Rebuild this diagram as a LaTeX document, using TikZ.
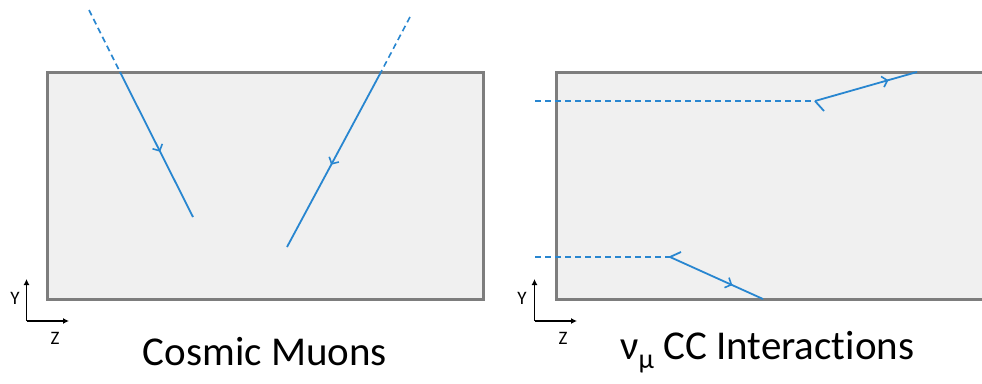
\documentclass[tikz,border=0pt]{standalone}
\usepackage{fontspec}
\setmainfont[Ligatures=NoCommon]{Carlito}
\usetikzlibrary{arrows.meta,decorations.markings}
\definecolor{trk}{RGB}{40,134,208}
\definecolor{boxfill}{RGB}{240,240,240}
\definecolor{boxline}{RGB}{125,125,125}
\tikzset{
  detbox/.style={fill=boxfill,draw=boxline,line width=3pt},
  track/.style={draw=trk,line width=1.8pt},
  ghost/.style={draw=trk,line width=1.6pt,dash pattern=on 6pt off 4pt},
  midarrow/.style={postaction={decorate},decoration={markings,
    mark=at position #1 with {\arrow[trk]{Straight Barb[length=5pt,width=11pt,line width=1.6pt]}}}},
  axis/.style={draw=black,line width=1.3pt,-{Latex[length=6pt,width=6pt]}},
  axlabel/.style={font=\fontsize{19}{19}\selectfont,inner sep=0pt},
  title/.style={font=\fontsize{41}{41}\selectfont,inner sep=0pt}
}
\begin{document}
\begin{tikzpicture}[x=1pt,y=-1pt]
\useasboundingbox (0,0) rectangle (982,383);
\clip (0,0) rectangle (982,383);
% boxes
\path[detbox] (47,72) rectangle (483,299);
\path[detbox] (995,72) -- (556,72) -- (556,299) -- (995,299);
% cosmic muon 1
\coordinate (a0) at (89,10);
\coordinate (a1) at (120,72);
\coordinate (a2) at (193,217);
\draw[ghost] (a0) -- (a1);
\draw[track,midarrow=0.55] (a1) -- (a2);
% cosmic muon 2
\coordinate (b0) at (410,17);
\coordinate (b1) at (381,72);
\coordinate (b2) at (287,247);
\draw[ghost] (b0) -- (b1);
\draw[track,midarrow=0.53] (b1) -- (b2);
% numu CC top
\coordinate (c0) at (535,101);
\coordinate (c1) at (815,101);
\coordinate (c2) at (917,72);
\coordinate (c3) at (824,111);
\draw[ghost] (c0) -- (c1);
\draw[track,midarrow=0.72] (c1) -- (c2);
\draw[track] (c1) -- (c3);
% numu CC bottom
\coordinate (d0) at (535,257);
\coordinate (d1) at (670,257);
\coordinate (d2) at (763,299);
\coordinate (d3) at (681,252);
\draw[ghost] (d0) -- (d1);
\draw[track,midarrow=0.67] (d1) -- (d2);
\draw[track] (d1) -- (d3);
% axes left
\coordinate (o1) at (26.5,321);
\draw[axis] (o1) -- (26.5,279);
\draw[axis] (o1) -- (69,321);
\node[axlabel] (y1) at (15,298) {Y};
\node[axlabel] (z1) at (55,338) {Z};
% axes right
\coordinate (o2) at (534.5,321);
\draw[axis] (o2) -- (534.5,279);
\draw[axis] (o2) -- (577,321);
\node[axlabel] (y2) at (522,298) {Y};
\node[axlabel] (z2) at (563,338) {Z};
% titles
\node[title] (t1) at (265,352) {Cosmic Muons};
\node[title,anchor=west] (t2) at (620,352) {ν\raisebox{-9pt}{\fontsize{28}{28}\selectfont μ} CC Interactions};
\end{tikzpicture}
\end{document}
